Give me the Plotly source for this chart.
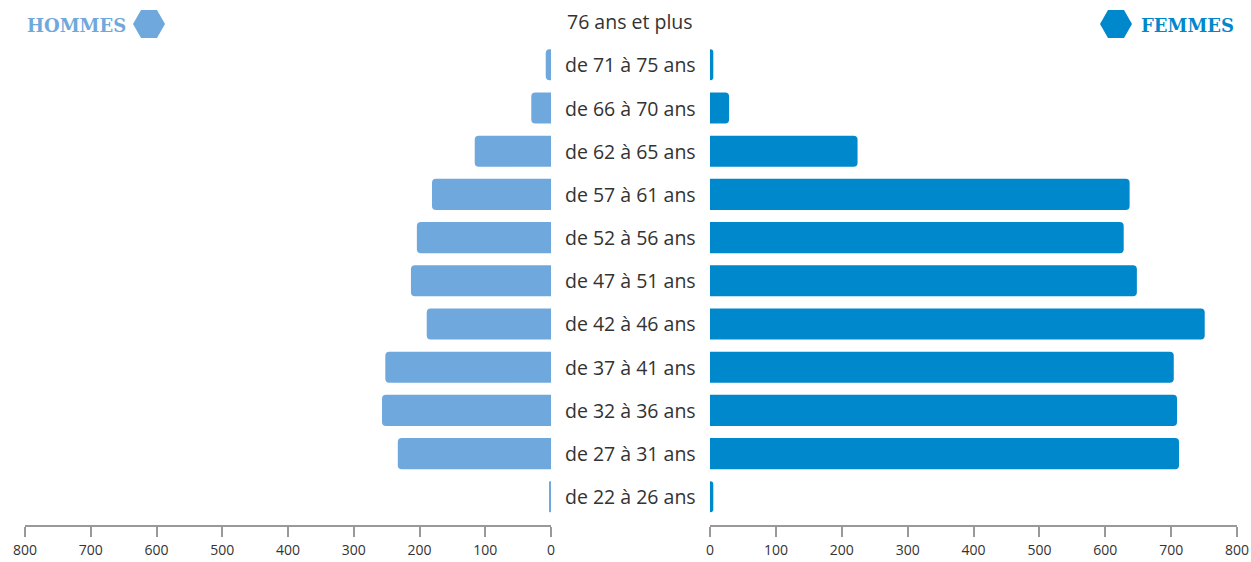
import plotly.graph_objects as go

categories = ["de 22 à 26 ans", "de 27 à 31 ans", "de 32 à 36 ans", "de 37 à 41 ans",
              "de 42 à 46 ans", "de 47 à 51 ans", "de 52 à 56 ans", "de 57 à 61 ans",
              "de 62 à 65 ans", "de 66 à 70 ans", "de 71 à 75 ans", "76 ans et plus"]
hommes = [3, 233, 257, 252, 189, 213, 204, 181, 116, 30, 8, 0]
femmes = [5, 712, 709, 704, 751, 648, 628, 637, 224, 29, 5, 0]
tick_vals = [0, 100, 200, 300, 400, 500, 600, 700, 800]

C_H = "#6FA8DC"
C_F = "#0088CC"
TXT = "#333333"
AX = "#999999"

PLOT_H = 525  # plot area height in px (margin b = 37)

fig = go.Figure()
fig.add_trace(go.Bar(x=hommes, y=categories, orientation="h", name="HOMMES",
                     marker=dict(color=C_H, cornerradius=4, line=dict(width=0)),
                     xaxis="x", yaxis="y", width=0.72))
fig.add_trace(go.Bar(x=femmes, y=categories, orientation="h", name="FEMMES",
                     marker=dict(color=C_F, cornerradius=4, line=dict(width=0)),
                     xaxis="x2", yaxis="y", width=0.72))

axis_common = dict(tickvals=tick_vals, showgrid=False, zeroline=False,
                   showline=True, linecolor=AX, linewidth=1.5, ticks="outside",
                   ticklen=10, tickwidth=1.5, tickcolor=AX, automargin=False,
                   ticklabelstandoff=1,
                   tickfont=dict(family="Open Sans", size=14, color=TXT),
                   anchor="y", fixedrange=True)

xa1 = dict(axis_common); xa1.update(range=[800, 0], domain=[25/1251, 551/1251])
xa2 = dict(axis_common); xa2.update(range=[0, 800], domain=[710/1251, 1237/1251])

annotations = []
for c in categories:
    annotations.append(dict(x=630/1251, xref="paper", y=c, yref="y", text=c,
                            showarrow=False, xanchor="center", yanchor="middle",
                            font=dict(family="Open Sans", size=19.5, color=TXT)))

annotations.append(dict(x=25/1251, xref="paper", y=1-25/PLOT_H, yref="paper", text="<b>HOMMES</b>",
                        showarrow=False, xanchor="left", yanchor="middle",
                        font=dict(family="DejaVu Serif", size=18, color=C_H)))
annotations.append(dict(x=1236/1251, xref="paper", y=1-25/PLOT_H, yref="paper", text="<b>FEMMES</b>",
                        showarrow=False, xanchor="right", yanchor="middle",
                        font=dict(family="DejaVu Serif", size=18, color=C_F)))

hex_path = "M -16 0 L -8 14 L 8 14 L 16 0 L 8 -14 L -8 -14 Z"
shapes = [
    dict(type="path", xref="paper", yref="paper", xsizemode="pixel", ysizemode="pixel",
         xanchor=149/1251, yanchor=1-24/PLOT_H, path=hex_path, fillcolor=C_H, line=dict(width=0)),
    dict(type="path", xref="paper", yref="paper", xsizemode="pixel", ysizemode="pixel",
         xanchor=1116/1251, yanchor=1-24/PLOT_H, path=hex_path, fillcolor=C_F, line=dict(width=0)),
]

fig.update_layout(
    width=1251, height=562, autosize=False,
    margin=dict(l=0, r=0, t=0, b=562-PLOT_H, pad=0),
    paper_bgcolor="white", plot_bgcolor="white",
    showlegend=False,
    xaxis=xa1, xaxis2=xa2,
    yaxis=dict(categoryorder="array", categoryarray=categories, range=[-0.653, 11.5],
               visible=False, fixedrange=True, automargin=False),
    annotations=annotations, shapes=shapes,
)

fig.write_html("out.html", config={"displayModeBar": False},
               post_script="document.body.style.margin='0';document.body.style.padding='0';"
                           "document.body.style.overflow='hidden';")
